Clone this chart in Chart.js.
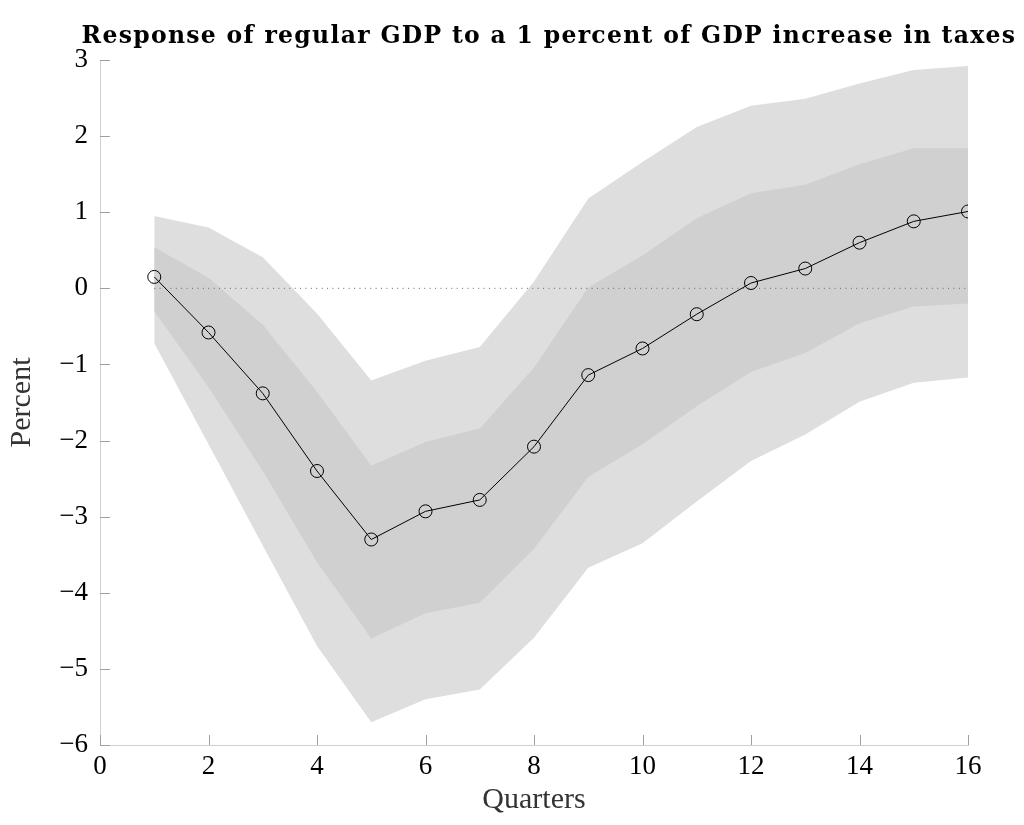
<!DOCTYPE html>
<html>
<head>
<meta charset="utf-8">
<script src="https://cdn.jsdelivr.net/npm/chart.js@4"></script>
<style>
  html, body { margin: 0; padding: 0; background: #fff; }
  #wrap { position: relative; width: 1024px; height: 825px; }
  #title {
    position: absolute; left: 49px; top: 20px; width: 1000px;
    line-height: 30px; text-align: center; white-space: nowrap;
    font-family: 'DejaVu Serif', serif; font-weight: bold; font-size: 23.5px;
    letter-spacing: 1.3px; color: #000;
  }
</style>
</head>
<body>
<div id="wrap">
  <div id="title">Response of regular GDP to a 1 percent of GDP increase in taxes</div>
  <canvas id="irf"></canvas>
</div>
<script>
// quarters after the shock
const quarters = [1, 2, 3, 4, 5, 6, 7, 8, 9, 10, 11, 12, 13, 14, 15, 16];
// point estimate (percent)
const response = [0.15, -0.58, -1.38, -2.40, -3.30, -2.93, -2.78, -2.08, -1.14, -0.79, -0.34, 0.07, 0.26, 0.60, 0.88, 1.01];
// inner band
const innerLow  = [-0.30, -1.30, -2.40, -3.60, -4.60, -4.27, -4.13, -3.42, -2.48, -2.05, -1.55, -1.10, -0.85, -0.46, -0.24, -0.20];
const innerHigh = [0.54, 0.14, -0.48, -1.36, -2.33, -2.02, -1.84, -1.04, 0.01, 0.43, 0.92, 1.25, 1.36, 1.63, 1.84, 1.84];
// outer band
const outerLow  = [-0.72, -2.05, -3.38, -4.70, -5.70, -5.40, -5.27, -4.59, -3.67, -3.35, -2.80, -2.27, -1.92, -1.49, -1.24, -1.17];
const outerHigh = [0.95, 0.80, 0.41, -0.33, -1.21, -0.95, -0.77, 0.09, 1.18, 1.66, 2.12, 2.40, 2.49, 2.69, 2.87, 2.92];
// axis ticks
const xTicks = [0, 2, 4, 6, 8, 10, 12, 14, 16];
const yTicks = [-6, -5, -4, -3, -2, -1, 0, 1, 2, 3];

const pts = arr => quarters.map((q, i) => ({ x: q, y: arr[i] }));
const serif = "'Liberation Serif', 'DejaVu Serif', serif";

// short tick marks drawn inside the plot, like the pgfplots original
const innerTicks = {
  id: 'innerTicks',
  afterDraw(chart) {
    const ctx = chart.ctx, a = chart.chartArea;
    const xs = chart.scales.x, ys = chart.scales.y;
    ctx.save();
    ctx.strokeStyle = '#a0a0a0';
    ctx.lineWidth = 1;
    ctx.beginPath();
    xTicks.forEach(v => {
      const px = Math.round(xs.getPixelForValue(v)) + 0.5;
      ctx.moveTo(px, a.bottom);
      ctx.lineTo(px, a.bottom - 10);
    });
    yTicks.forEach(v => {
      const py = Math.round(ys.getPixelForValue(v)) + 0.5;
      ctx.moveTo(a.left, py);
      ctx.lineTo(a.left + 10, py);
    });
    ctx.stroke();
    ctx.restore();
  }
};

const bandLine = { borderWidth: 0, pointRadius: 0, borderColor: 'transparent' };

new Chart(document.getElementById('irf'), {
  type: 'line',
  data: {
    datasets: [
      Object.assign({ data: pts(outerLow), fill: false, order: 4 }, bandLine),
      Object.assign({ data: pts(outerHigh), fill: '-1', backgroundColor: '#dedede', order: 4 }, bandLine),
      Object.assign({ data: pts(innerLow), fill: false, order: 3 }, bandLine),
      Object.assign({ data: pts(innerHigh), fill: '-1', backgroundColor: '#d0d0d0', order: 3 }, bandLine),
      {
        data: [{ x: 1, y: 0 }, { x: 16, y: 0 }],
        borderColor: '#666666', borderWidth: 1, borderDash: [1, 4.4],
        pointRadius: 0, fill: false, order: 2
      },
      {
        data: pts(response),
        borderColor: '#000000', borderWidth: 1,
        pointRadius: 6.5, pointBorderWidth: 1,
        pointBorderColor: '#000000', pointBackgroundColor: 'rgba(0,0,0,0)',
        fill: false, order: 1
      }
    ]
  },
  options: {
    responsive: true,
    maintainAspectRatio: false,
    animation: false,
    layout: { padding: { top: 60, right: 56 } },
    plugins: {
      legend: { display: false },
      tooltip: { enabled: false },
      title: { display: false }
    },
    scales: {
      x: {
        type: 'linear',
        min: 0, max: 16,
        afterBuildTicks: s => { s.ticks = xTicks.map(v => ({ value: v })); },
        afterFit: s => { s.height = 80; },
        grid: { display: false },
        border: { display: true, color: '#d0d0d0', width: 1 },
        ticks: { color: '#000', font: { family: serif, size: 27 }, padding: -2, maxRotation: 0 },
        title: {
          display: true, text: 'Quarters', color: '#333',
          font: { family: serif, size: 30 }, padding: { top: 0, bottom: 7 }
        }
      },
      y: {
        min: -6, max: 3,
        afterBuildTicks: s => { s.ticks = yTicks.map(v => ({ value: v })); },
        afterFit: s => { s.width = 100; },
        grid: { display: false },
        border: { display: true, color: '#d0d0d0', width: 1 },
        ticks: {
          color: '#000', font: { family: serif, size: 27 }, padding: 4,
          callback: v => (v < 0 ? '\u2212' + Math.abs(v) : String(v))
        },
        title: {
          display: true, text: 'Percent', color: '#333',
          font: { family: serif, size: 30 }, padding: { top: 4, bottom: 0 }
        }
      }
    }
  },
  plugins: [innerTicks]
});
</script>
</body>
</html>
